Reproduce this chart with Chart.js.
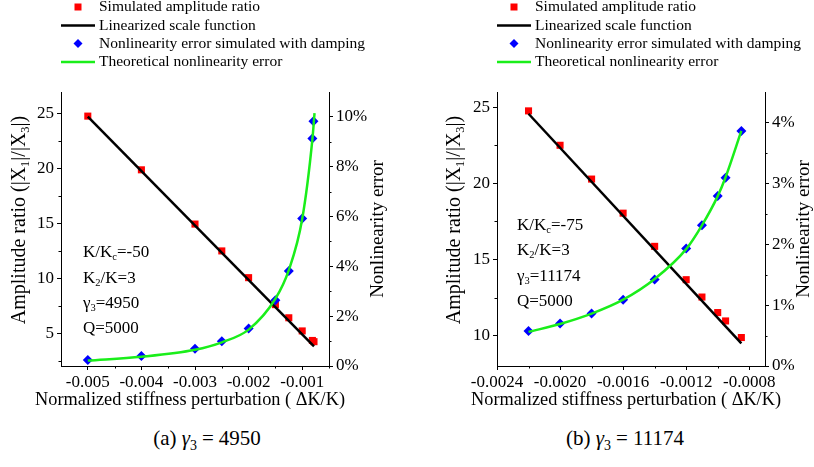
<!DOCTYPE html>
<html>
<head>
<meta charset="utf-8">
<script src="https://cdn.jsdelivr.net/npm/chart.js@4.4.1/dist/chart.umd.min.js"></script>
<style>
    body { margin: 0; background: #fff; }
    #wrap { position: relative; width: 814px; height: 467px; overflow: hidden; font-family: "Liberation Serif", "Times New Roman", serif; }
    canvas { position: absolute; top: 0; }
    #chartA { left: 0; }
    #chartB { left: 407px; }
    .caption { position: absolute; top: 426px; width: 300px; font-size: 21px; text-align: center; color: #000; }
    .caption sub { font-size: 14px; }
    .caption .eq { margin: 0 5px; }
</style>
</head>
<body>
<div id="wrap">
    <canvas id="chartA" width="407" height="420"></canvas>
    <canvas id="chartB" width="407" height="420"></canvas>
    <div class="caption" style="left:57px">(a) <i>γ</i><sub>3</sub><span class="eq">=</span>4950</div>
    <div class="caption" style="left:475px">(b) <i>γ</i><sub>3</sub><span class="eq">=</span>11174</div>
</div>
<script>
const FONT = '"Liberation Serif", "Times New Roman", serif';

const legendLabels = [
    "Simulated amplitude ratio",
    "Linearized scale function",
    "Nonlinearity error simulated with damping",
    "Theoretical nonlinearity error",
];
const xTitle = "Normalized stiffness perturbation ( ΔK/K)";

// (a) gamma3 = 4950
const ampXA = [-0.005, -0.004, -0.003, -0.0025, -0.002, -0.0015, -0.00125, -0.001, -0.00081, -0.00078];
const ampYA = [24.8, 19.9, 14.95, 12.5, 10.06, 7.6, 6.4, 5.2, 4.33, 4.22];
const fitXA = [-0.005, -0.00078];
const fitYA = [24.75, 3.8];
const errXA = [-0.005, -0.004, -0.003, -0.0025, -0.002, -0.0015, -0.00125, -0.001, -0.00081, -0.00079];
const errYA = [0.24, 0.4, 0.69, 0.99, 1.51, 2.64, 3.81, 5.92, 9.13, 9.83];
const theoXA = [-0.005, -0.004, -0.003, -0.0025, -0.002, -0.0015, -0.00125, -0.001, -0.00081, -0.00077];
const theoYA = [0.22, 0.37, 0.65, 0.95, 1.46, 2.7, 3.85, 5.9, 9.1, 10.15];
const xMajorA = [-0.005, -0.004, -0.003, -0.002, -0.001];
const xMinorA = [-0.0045, -0.0035, -0.0025, -0.0015, -0.0005];
const yMajorA = [5, 10, 15, 20, 25];
const yMinorA = [2.5, 7.5, 12.5, 17.5, 22.5];
const y1MajorA = [0, 2, 4, 6, 8, 10];
const y1MinorA = [1, 3, 5, 7, 9];
const notesA = [
    [["K/K", 0], ["c", 1], ["=-50", 0]],
    [["K", 0], ["2", 1], ["/K=3", 0]],
    [["γ", 0], ["3", 1], ["=4950", 0]],
    [["Q=5000", 0]],
];

// (b) gamma3 = 11174
const ampXB = [-0.0022, -0.002, -0.0018, -0.0016, -0.0014, -0.0012, -0.0011, -0.001, -0.00095, -0.00085];
const ampYB = [24.76, 22.5, 20.28, 18.04, 15.86, 13.67, 12.53, 11.51, 10.96, 9.87];
const fitXB = [-0.0022, -0.00085];
const fitYB = [24.57, 9.48];
const errXB = [-0.0022, -0.002, -0.0018, -0.0016, -0.0014, -0.0012, -0.0011, -0.001, -0.00095, -0.00085];
const errYB = [0.574, 0.7, 0.864, 1.09, 1.42, 1.93, 2.31, 2.79, 3.09, 3.86];
const theoXB = [-0.0022, -0.002, -0.0018, -0.0016, -0.0014, -0.0012, -0.0011, -0.001, -0.00095, -0.00085];
const theoYB = [0.56, 0.69, 0.86, 1.09, 1.43, 1.92, 2.31, 2.79, 3.1, 3.86];
const xMajorB = [-0.0024, -0.002, -0.0016, -0.0012, -0.0008];
const xMinorB = [-0.0022, -0.0018, -0.0014, -0.001];
const yMajorB = [10, 15, 20, 25];
const yMinorB = [12.5, 17.5, 22.5];
const y1MajorB = [0, 1, 2, 3, 4];
const y1MinorB = [0.5, 1.5, 2.5, 3.5];
const notesB = [
    [["K/K", 0], ["c", 1], ["=-75", 0]],
    [["K", 0], ["2", 1], ["/K=3", 0]],
    [["γ", 0], ["3", 1], ["=11174", 0]],
    [["Q=5000", 0]],
];

function zip(xs, ys) {
    return xs.map((x, i) => ({ x: x, y: ys[i] }));
}

// text with subscripts, parts = [[text, isSub], ...]
function drawRich(ctx, parts, x, y, size, align) {
    ctx.save();
    ctx.fillStyle = "#000";
    ctx.textBaseline = "middle";
    ctx.textAlign = "left";
    let width = 0;
    parts.forEach(([t, sub]) => {
        ctx.font = (sub ? size * 0.62 : size) + "px " + FONT;
        width += ctx.measureText(t).width;
    });
    let cx = align === "center" ? x - width / 2 : x;
    parts.forEach(([t, sub]) => {
        ctx.font = (sub ? size * 0.62 : size) + "px " + FONT;
        ctx.fillText(t, cx, sub ? y + size * 0.28 : y);
        cx += ctx.measureText(t).width;
    });
    ctx.restore();
}

const decorations = {
    id: "decorations",
    afterDraw(chart) {
        const p = chart.options.plugins.decorations;
        const ctx = chart.ctx;
        const { x, y, y1 } = chart.scales;

        // minor ticks
        ctx.save();
        ctx.strokeStyle = "#000";
        ctx.lineWidth = 1;
        ctx.beginPath();
        p.xMinor.forEach((v) => {
            const px = Math.round(x.getPixelForValue(v)) + 0.5;
            ctx.moveTo(px, x.top);
            ctx.lineTo(px, x.top + 2.5);
        });
        p.yMinor.forEach((v) => {
            const py = Math.round(y.getPixelForValue(v)) + 0.5;
            ctx.moveTo(y.right, py);
            ctx.lineTo(y.right - 2.5, py);
        });
        p.y1Minor.forEach((v) => {
            const py = Math.round(y1.getPixelForValue(v)) + 0.5;
            ctx.moveTo(y1.left, py);
            ctx.lineTo(y1.left + 2.5, py);
        });
        ctx.stroke();
        ctx.restore();

        // axis titles
        drawRich(ctx, [[xTitle, 0]], (x.left + x.right) / 2 - 5, 400, 18.3, "center");
        ctx.save();
        ctx.translate(p.yTitleX, 220);
        ctx.rotate(-Math.PI / 2);
        drawRich(ctx, [["Amplitude ratio (|X", 0], ["1", 1], ["|/|X", 0], ["3", 1], ["|)", 0]], 0, 0, 20, "center");
        ctx.restore();
        ctx.save();
        ctx.translate(p.y1TitleX, 229);
        ctx.rotate(-Math.PI / 2);
        drawRich(ctx, [["Nonlinearity error", 0]], 0, 0, 19, "center");
        ctx.restore();

        // parameter notes
        p.notes.forEach((parts, i) => {
            drawRich(ctx, parts, p.noteX, p.noteY + i * 25.4, 17, "left");
        });

        // legend
        const ds = chart.data.datasets;
        const rows = [7, 25.5, 43.5, 62];
        ctx.save();
        rows.forEach((ry, i) => {
            const d = ds[i];
            if (d.showLine) {
                ctx.strokeStyle = d.borderColor;
                ctx.lineWidth = 2.5;
                ctx.beginPath();
                ctx.moveTo(p.legendX, ry);
                ctx.lineTo(p.legendX + 34, ry);
                ctx.stroke();
            } else if (d.pointStyle === "rect") {
                ctx.fillStyle = d.backgroundColor;
                ctx.fillRect(p.legendX + 17 - 3.5, ry - 3.5, 7, 7);
            } else {
                ctx.fillStyle = d.backgroundColor;
                ctx.beginPath();
                ctx.moveTo(p.legendX + 17, ry - 4.5);
                ctx.lineTo(p.legendX + 21.5, ry);
                ctx.lineTo(p.legendX + 17, ry + 4.5);
                ctx.lineTo(p.legendX + 12.5, ry);
                ctx.closePath();
                ctx.fill();
            }
            drawRich(ctx, [[d.label, 0]], p.legendX + 38, ry, 15.5, "left");
        });
        ctx.restore();
    },
};

function axisBase(major, width, fmt) {
    return {
        type: "linear",
        afterBuildTicks: (scale) => {
            scale.ticks = major.map((v) => ({ value: v }));
        },
        afterFit: (scale) => {
            scale.width = width;
        },
        grid: { drawOnChartArea: false, tickLength: 4, color: "#000", tickColor: "#000" },
        border: { color: "#000", width: 1 },
        ticks: {
            color: "#000",
            font: { family: FONT, size: 17 },
            padding: 3,
            autoSkip: false,
            callback: fmt,
        },
    };
}

function buildChart(id, p) {
    const xAxis = axisBase(p.xMajor, 0, (v) => v.toFixed(p.xDec));
    xAxis.afterFit = (scale) => {
        scale.height = 45;
    };
    xAxis.min = p.xMin;
    xAxis.max = p.xMax;
    xAxis.ticks.padding = 2;
    xAxis.ticks.maxRotation = 0;

    const yAxis = axisBase(p.yMajor, p.leftW, (v) => v);
    yAxis.position = "left";
    yAxis.min = p.yMin;
    yAxis.max = p.yMax;

    const y1Axis = axisBase(p.y1Major, p.rightW, (v) => v + "%");
    y1Axis.position = "right";
    y1Axis.min = 0;
    y1Axis.max = p.y1Max;

    return new Chart(document.getElementById(id), {
        type: "scatter",
        data: {
            datasets: [
                {
                    label: legendLabels[0],
                    data: zip(p.ampX, p.ampY),
                    yAxisID: "y",
                    pointStyle: "rect",
                    pointRadius: 5,
                    backgroundColor: "#ff0000",
                    borderColor: "#ff0000",
                    borderWidth: 0,
                    order: 4,
                },
                {
                    label: legendLabels[1],
                    data: zip(p.fitX, p.fitY),
                    yAxisID: "y",
                    showLine: true,
                    pointRadius: 0,
                    borderColor: "#000000",
                    borderWidth: 2.5,
                    order: 3,
                },
                {
                    label: legendLabels[2],
                    data: zip(p.errX, p.errY),
                    yAxisID: "y1",
                    pointStyle: "rectRot",
                    pointRadius: 5,
                    backgroundColor: "#0000ff",
                    borderColor: "#0000ff",
                    borderWidth: 0,
                    order: 2,
                },
                {
                    label: legendLabels[3],
                    data: zip(p.theoX, p.theoY),
                    yAxisID: "y1",
                    showLine: true,
                    pointRadius: 0,
                    borderColor: "#1aee1a",
                    borderWidth: 2.5,
                    cubicInterpolationMode: "monotone",
                    order: 1,
                },
            ],
        },
        options: {
            responsive: false,
            animation: false,
            layout: { padding: { top: 92, bottom: 9, left: 0, right: 0 } },
            plugins: {
                legend: { display: false },
                tooltip: { enabled: false },
                decorations: p,
            },
            scales: { x: xAxis, y: yAxis, y1: y1Axis },
        },
        plugins: [decorations],
    });
}

buildChart("chartA", {
    ampX: ampXA, ampY: ampYA, fitX: fitXA, fitY: fitYA,
    errX: errXA, errY: errYA, theoX: theoXA, theoY: theoYA,
    xMin: -0.0055, xMax: -0.0005, xDec: 3, xMajor: xMajorA, xMinor: xMinorA,
    yMin: 2, yMax: 27, yMajor: yMajorA, yMinor: yMinorA,
    y1Max: 11, y1Major: y1MajorA, y1Minor: y1MinorA,
    leftW: 61, rightW: 78, yTitleX: 20, y1TitleX: 378,
    notes: notesA, noteX: 83, noteY: 252.7, legendX: 61,
});

buildChart("chartB", {
    ampX: ampXB, ampY: ampYB, fitX: fitXB, fitY: fitYB,
    errX: errXB, errY: errYB, theoX: theoXB, theoY: theoYB,
    xMin: -0.0024, xMax: -0.0007, xDec: 4, xMajor: xMajorB, xMinor: xMinorB,
    yMin: 8, yMax: 26, yMajor: yMajorB, yMinor: yMinorB,
    y1Max: 4.5, y1Major: y1MajorB, y1Minor: y1MinorB,
    leftW: 90, rightW: 49, yTitleX: 48, y1TitleX: 397,
    notes: notesB, noteX: 110, noteY: 225.3, legendX: 90,
});
</script>
</body>
</html>
